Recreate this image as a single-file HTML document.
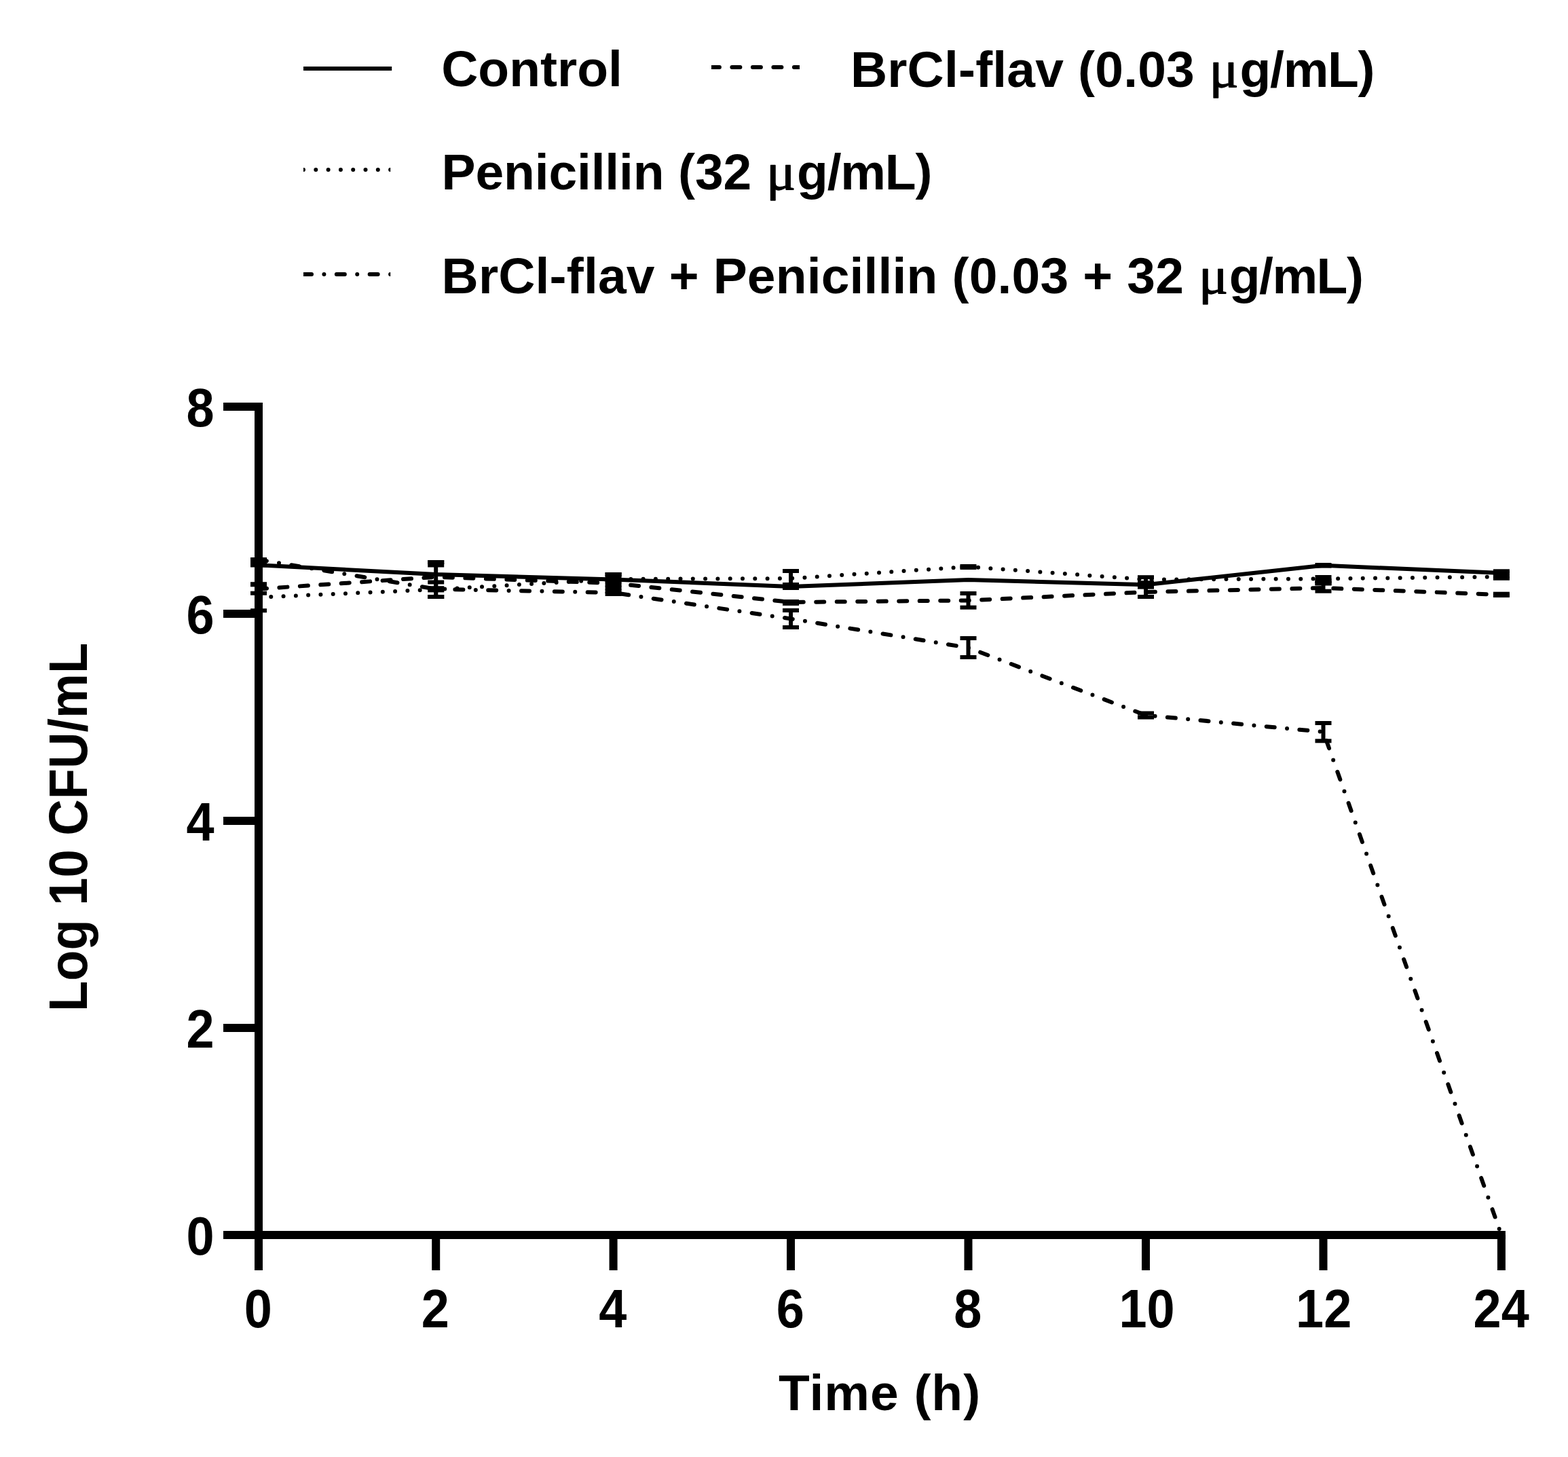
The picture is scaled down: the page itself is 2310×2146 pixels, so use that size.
<!DOCTYPE html>
<html lang="en"><head><meta charset="utf-8"><title>Time-kill curve</title>
<style>
html,body{margin:0;padding:0;background:#fff;}
body{width:2310px;height:2146px;overflow:hidden;}
svg{display:block;}
text{font-family:"Liberation Sans",Arial,Helvetica,sans-serif;font-weight:bold;font-size:75.0px;fill:#000;}
.mu{font-size:77px;font-family:"Liberation Serif","DejaVu Serif",serif;font-weight:normal;stroke:#000;stroke-width:1.3px;stroke-linejoin:round;}
.ln{fill:none;stroke:#000;stroke-width:6.0;stroke-linecap:round;stroke-linejoin:round;}
</style></head><body>
<svg width="2310" height="2146" viewBox="0 0 2310 2146">
<rect width="2310" height="2146" fill="#fff"/>
<g class="legend">
<line x1="447.0" y1="101.0" x2="577.2" y2="101.0" stroke="#000" stroke-width="6.0"/>
<text x="650.2" y="127.0">Control</text>
<svg x="1047.9" y="89.0" width="130.2" height="20" viewBox="1047.9 89.0 130.2 20"><line class="ln" x1="1047.9" y1="99.0" x2="1184.1" y2="99.0" stroke-dasharray="12 18.5"/></svg>
<text x="1252.90" y="128.0"><tspan textLength="527.93">BrCl-flav (0.03 </tspan><tspan class="mu" x="1781.49" textLength="43.2" lengthAdjust="spacingAndGlyphs">μ</tspan><tspan x="1826.61" textLength="198.89">g/mL)</tspan></text>
<svg x="447.0" y="240.0" width="128.2" height="20" viewBox="447.0 240.0 128.2 20"><line class="ln" x1="447.0" y1="250.0" x2="581.2" y2="250.0" stroke-dasharray="0 18.3"/></svg>
<text x="650.60" y="278.8"><tspan textLength="477.27">Penicillin (32 </tspan><tspan class="mu" x="1128.94" textLength="43.2" lengthAdjust="spacingAndGlyphs">μ</tspan><tspan x="1174.06" textLength="199.39">g/mL)</tspan></text>
<svg x="447.0" y="394.0" width="128.2" height="20" viewBox="447.0 394.0 128.2 20"><line class="ln" x1="447.0" y1="404.0" x2="581.2" y2="404.0" stroke-dasharray="12 18.415 0 18.415"/></svg>
<text x="650.60" y="432.3"><tspan textLength="1114.35">BrCl-flav + Penicillin (0.03 + 32 </tspan><tspan class="mu" x="1766.03" textLength="43.2" lengthAdjust="spacingAndGlyphs">μ</tspan><tspan x="1810.75" textLength="198.14">g/mL)</tspan></text>
</g>
<g class="series">
<polyline class="ln" points="381.0,879.9 642.2,868.2 903.6,853.0 1165.0,852.0 1426.5,834.8 1688.0,853.6 1949.5,852.5 2211.9,849.5" stroke-dasharray="0 18.3"/>
<polyline class="ln" points="381.0,867.5 642.2,849.8 903.6,859.0 1165.0,887.0 1426.5,884.4 1688.0,872.0 1949.5,866.0 2211.9,876.0" stroke-dasharray="12 18.5"/>
<polyline class="ln" points="381.0,824.2 642.2,867.7 903.6,873.0 1165.0,911.4 1426.5,954.0 1688.0,1053.5 1949.5,1078.0 2211.9,1819.0" stroke-dasharray="12 18.415 0 18.415"/>
<polyline class="ln" points="381.0,832.2 642.2,846.0 903.6,853.5 1165.0,864.0 1426.5,854.0 1688.0,861.3 1949.5,832.8 2211.9,844.0" style="stroke-linecap:butt"/>
</g>
<g class="errors" fill="#000">
<rect x="378.0" y="824.0" width="6" height="4.4"/>
<rect x="369.0" y="821.0" width="24" height="6"/>
<rect x="369.0" y="825.4" width="24" height="6"/>
<rect x="378.0" y="828.4" width="6" height="4.1"/>
<rect x="369.0" y="825.4" width="24" height="6"/>
<rect x="369.0" y="829.5" width="24" height="6"/>
<rect x="378.0" y="860.2" width="6" height="13.5"/>
<rect x="369.0" y="857.2" width="24" height="6"/>
<rect x="369.0" y="870.7" width="24" height="6"/>
<rect x="378.0" y="861.3" width="6" height="38.0"/>
<rect x="369.0" y="858.3" width="24" height="6"/>
<rect x="369.0" y="896.3" width="24" height="6"/>
<rect x="639.2" y="828.0" width="6" height="4.5"/>
<rect x="630.2" y="825.0" width="24" height="6"/>
<rect x="630.2" y="829.5" width="24" height="6"/>
<rect x="639.2" y="857.5" width="6" height="21.5"/>
<rect x="630.2" y="854.5" width="24" height="6"/>
<rect x="630.2" y="876.0" width="24" height="6"/>
<rect x="639.2" y="828.0" width="6" height="51.0"/>
<rect x="630.2" y="825.0" width="24" height="6"/>
<rect x="630.2" y="876.0" width="24" height="6"/>
<rect x="639.2" y="866.2" width="6" height="3.2"/>
<rect x="630.2" y="863.2" width="24" height="6"/>
<rect x="630.2" y="866.4" width="24" height="6"/>
<rect x="900.6" y="846.0" width="6" height="29.0"/>
<rect x="891.6" y="843.0" width="24" height="6"/>
<rect x="891.6" y="872.0" width="24" height="6"/>
<rect x="900.6" y="846.0" width="6" height="5.0"/>
<rect x="891.6" y="843.0" width="24" height="6"/>
<rect x="891.6" y="848.0" width="24" height="6"/>
<rect x="900.6" y="856.0" width="6" height="5.0"/>
<rect x="891.6" y="853.0" width="24" height="6"/>
<rect x="891.6" y="858.0" width="24" height="6"/>
<rect x="900.6" y="866.0" width="6" height="5.0"/>
<rect x="891.6" y="863.0" width="24" height="6"/>
<rect x="891.6" y="868.0" width="24" height="6"/>
<rect x="1162.0" y="841.0" width="6" height="25.0"/>
<rect x="1153.0" y="838.0" width="24" height="6"/>
<rect x="1153.0" y="863.0" width="24" height="6"/>
<rect x="1162.0" y="861.0" width="6" height="5.0"/>
<rect x="1153.0" y="858.0" width="24" height="6"/>
<rect x="1153.0" y="863.0" width="24" height="6"/>
<rect x="1162.0" y="886.0" width="6" height="3.0"/>
<rect x="1153.0" y="883.0" width="24" height="6"/>
<rect x="1153.0" y="886.0" width="24" height="6"/>
<rect x="1162.0" y="899.0" width="6" height="25.0"/>
<rect x="1153.0" y="896.0" width="24" height="6"/>
<rect x="1153.0" y="921.0" width="24" height="6"/>
<rect x="1423.5" y="834.0" width="6" height="2.0"/>
<rect x="1414.5" y="831.0" width="24" height="6"/>
<rect x="1414.5" y="833.0" width="24" height="6"/>
<rect x="1423.5" y="874.0" width="6" height="20.7"/>
<rect x="1414.5" y="871.0" width="24" height="6"/>
<rect x="1414.5" y="891.7" width="24" height="6"/>
<rect x="1423.5" y="940.0" width="6" height="28.0"/>
<rect x="1414.5" y="937.0" width="24" height="6"/>
<rect x="1414.5" y="965.0" width="24" height="6"/>
<rect x="1685.0" y="850.2" width="6" height="8.3"/>
<rect x="1676.0" y="847.2" width="24" height="6"/>
<rect x="1676.0" y="855.5" width="24" height="6"/>
<rect x="1685.0" y="858.5" width="6" height="5.9"/>
<rect x="1676.0" y="855.5" width="24" height="6"/>
<rect x="1676.0" y="861.4" width="24" height="6"/>
<rect x="1685.0" y="864.4" width="6" height="14.6"/>
<rect x="1676.0" y="861.4" width="24" height="6"/>
<rect x="1676.0" y="876.0" width="24" height="6"/>
<rect x="1685.0" y="1050.5" width="6" height="6.0"/>
<rect x="1676.0" y="1047.5" width="24" height="6"/>
<rect x="1676.0" y="1053.5" width="24" height="6"/>
<rect x="1946.5" y="832.0" width="6" height="1.6"/>
<rect x="1937.5" y="829.0" width="24" height="6"/>
<rect x="1937.5" y="830.6" width="24" height="6"/>
<rect x="1946.5" y="850.0" width="6" height="5.5"/>
<rect x="1937.5" y="847.0" width="24" height="6"/>
<rect x="1937.5" y="852.5" width="24" height="6"/>
<rect x="1946.5" y="855.5" width="6" height="3.8"/>
<rect x="1937.5" y="852.5" width="24" height="6"/>
<rect x="1937.5" y="856.3" width="24" height="6"/>
<rect x="1946.5" y="859.3" width="6" height="11.4"/>
<rect x="1937.5" y="856.3" width="24" height="6"/>
<rect x="1937.5" y="867.7" width="24" height="6"/>
<rect x="1946.5" y="1065.0" width="6" height="26.3"/>
<rect x="1937.5" y="1062.0" width="24" height="6"/>
<rect x="1937.5" y="1088.3" width="24" height="6"/>
<rect x="2208.9" y="841.3" width="6" height="10.5"/>
<rect x="2199.9" y="838.3" width="24" height="6"/>
<rect x="2199.9" y="848.8" width="24" height="6"/>
<rect x="2208.9" y="844.0" width="6" height="5.0"/>
<rect x="2199.9" y="841.0" width="24" height="6"/>
<rect x="2199.9" y="846.0" width="24" height="6"/>
<rect x="2208.9" y="874.7" width="6" height="2.3"/>
<rect x="2199.9" y="871.7" width="24" height="6"/>
<rect x="2199.9" y="874.0" width="24" height="6"/>
</g>
<g class="axes" fill="#000">
<rect x="375.0" y="593.0" width="12" height="1278.0"/>
<rect x="329.0" y="1813.0" width="1888.9" height="12"/>
<rect x="329.0" y="1508.0" width="52.0" height="12"/>
<rect x="329.0" y="1203.0" width="52.0" height="12"/>
<rect x="329.0" y="898.0" width="52.0" height="12"/>
<rect x="329.0" y="593.0" width="52.0" height="12"/>
<rect x="636.2" y="1819.0" width="12" height="52.0"/>
<rect x="897.6" y="1819.0" width="12" height="52.0"/>
<rect x="1159.0" y="1819.0" width="12" height="52.0"/>
<rect x="1420.5" y="1819.0" width="12" height="52.0"/>
<rect x="1682.0" y="1819.0" width="12" height="52.0"/>
<rect x="1943.5" y="1819.0" width="12" height="52.0"/>
<rect x="2205.9" y="1819.0" width="12" height="52.0"/>
</g>
<g class="labels">
<text transform="translate(315.6 1847.6) scale(0.985 1.06)" text-anchor="end">0</text>
<text transform="translate(315.6 1542.6) scale(0.985 1.06)" text-anchor="end">2</text>
<text transform="translate(315.6 1237.6) scale(0.985 1.06)" text-anchor="end">4</text>
<text transform="translate(315.6 932.6) scale(0.985 1.06)" text-anchor="end">6</text>
<text transform="translate(315.6 627.6) scale(0.985 1.06)" text-anchor="end">8</text>
<text transform="translate(380.2 1954.6) scale(0.985 1.06)" text-anchor="middle">0</text>
<text transform="translate(641.4 1954.6) scale(0.985 1.06)" text-anchor="middle">2</text>
<text transform="translate(902.8 1954.6) scale(0.985 1.06)" text-anchor="middle">4</text>
<text transform="translate(1164.2 1954.6) scale(0.985 1.06)" text-anchor="middle">6</text>
<text transform="translate(1425.7 1954.6) scale(0.985 1.06)" text-anchor="middle">8</text>
<text transform="translate(1689.6 1954.6) scale(0.985 1.06)" text-anchor="middle">10</text>
<text transform="translate(1950.2 1954.6) scale(0.985 1.06)" text-anchor="middle">12</text>
<text transform="translate(2211.7 1954.6) scale(0.985 1.06)" text-anchor="middle">24</text>
<text x="1295.6" y="2076.6" text-anchor="middle" textLength="297.1">Time (h)</text>
<text transform="translate(128.0 1218.4) rotate(-90) scale(0.9875 1.05)" text-anchor="middle">Log 10 CFU/mL</text>
</g>
</svg></body></html>
